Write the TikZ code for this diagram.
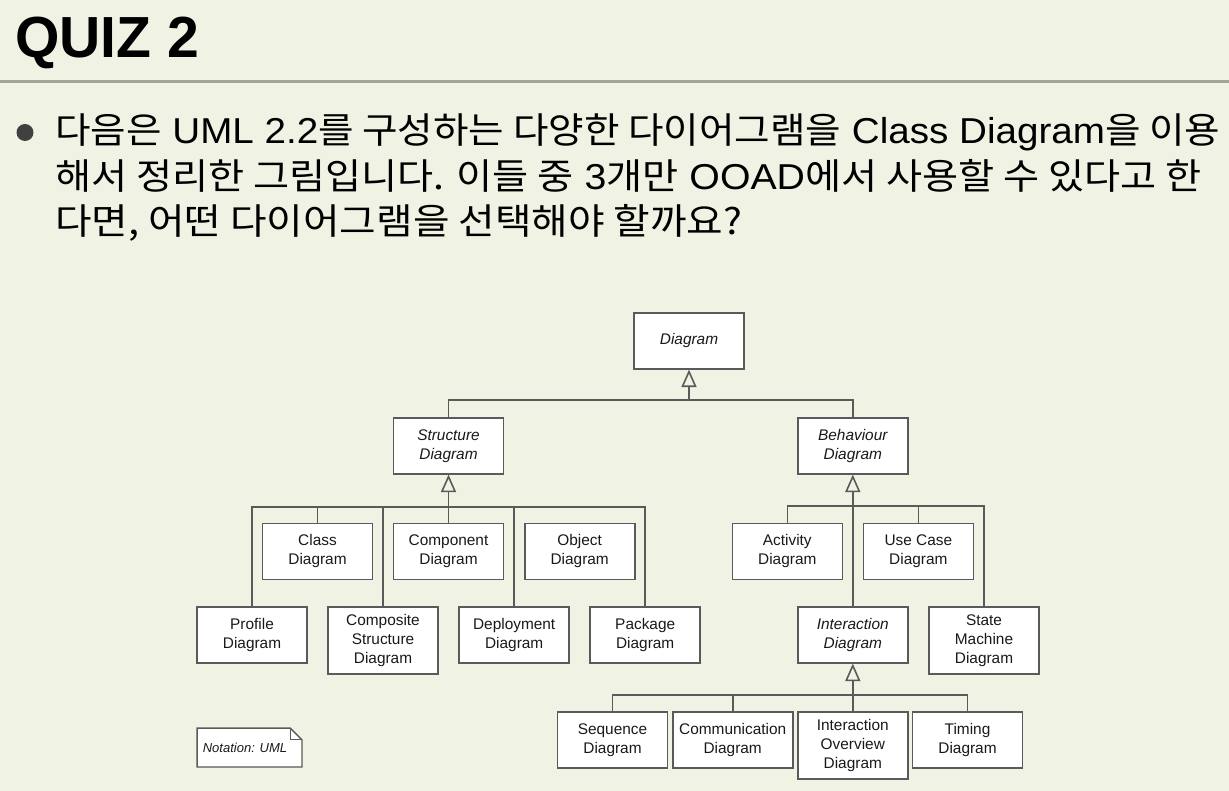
\documentclass[tikz,border=0pt]{standalone}
\usepackage{fontspec}
\setmainfont{Liberation Sans}
\newfontfamily\kr{Noto Sans CJK KR}
\usetikzlibrary{arrows.meta,calc}
\definecolor{bg}{RGB}{240,243,228}
\definecolor{linec}{RGB}{90,90,90}
\definecolor{sepc}{RGB}{160,165,150}
\definecolor{txt}{RGB}{25,25,25}
\definecolor{bulletc}{RGB}{64,64,64}
\begin{document}
\begin{tikzpicture}[x=1pt,y=-1pt,
 box/.style={draw=linec, line width=1.6pt, fill=white, minimum width=110pt, minimum height=56pt, inner sep=0pt, align=center, anchor=north, font=\fontsize{15.4}{19}\selectfont, text=txt},
 tall/.style={minimum height=67pt},
 ab/.style={font=\fontsize{15.4}{19}\selectfont\itshape},
 conn/.style={draw=linec, line width=1.6pt},
 gen/.style={conn, -{Triangle[open, length=17.5pt, width=15pt]}},
 qline/.style={anchor=base west, inner sep=0pt, font=\fontsize{36}{40}\selectfont, text=black}]
\fill[bg] (0,0) rectangle (1229,791);
\useasboundingbox (0,0) rectangle (1229,791);

% title and question
\node[anchor=base west, inner sep=0pt] (title) at (15,57.3) {\resizebox{184pt}{\height}{\fontsize{58}{60}\selectfont\bfseries QUIZ 2}};
\draw[sepc, line width=3pt] (0,81.5) -- (1229,81.5);
\fill[bulletc] (25,132.5) circle (8.5);
\node[qline] (q1) at (55,144) {\resizebox{1165pt}{\height}{{\kr 다음은} UML 2.2{\kr 를 구성하는 다양한 다이어그램을} Class Diagram{\kr 을 이용}}};
\node[qline] (q2) at (55,189.5) {\resizebox{1146pt}{\height}{{\kr 해서 정리한 그림입니다. 이들 중} 3{\kr 개만} OOAD{\kr 에서 사용할 수 있다고 한}}};
\node[qline] (q3) at (55,235) {\resizebox{687pt}{\height}{{\kr 다면, 어떤 다이어그램을 선택해야 할까요?}}};

% diagram nodes
\node[box,ab] (dia) at (689,312) {Diagram};
\node[box,ab] (str) at (448.5,417) {Structure\\Diagram};
\node[box,ab] (beh) at (852.8,417) {Behaviour\\Diagram};
\node[box] (cls) at (317.5,522.7) {Class\\Diagram};
\node[box] (cmp) at (448.5,522.7) {Component\\Diagram};
\node[box] (obj) at (579.7,522.7) {Object\\Diagram};
\node[box] (prof) at (252,606) {Profile\\Diagram};
\node[box,tall] (comp) at (383,606) {Composite\\Structure\\Diagram};
\node[box] (dep) at (514.2,606) {Deployment\\Diagram};
\node[box] (pkg) at (645.2,606) {Package\\Diagram};
\node[box] (act) at (787.3,522.7) {Activity\\Diagram};
\node[box] (uc) at (918.3,522.7) {Use Case\\Diagram};
\node[box,ab] (inter) at (852.8,606) {Interaction\\Diagram};
\node[box,tall] (sm) at (984,606) {State\\Machine\\Diagram};
\node[box] (seq) at (612.5,711) {Sequence\\Diagram};
\node[box,minimum width=120pt] (commu) at (732.7,711) {Communication\\Diagram};
\node[box,tall] (iov) at (852.8,711) {Interaction\\Overview\\Diagram};
\node[box] (tim) at (967.5,711) {Timing\\Diagram};

% junctions
\coordinate (j0) at (689,400);
\coordinate (j1) at (448.5,506.7);
\coordinate (j2) at (852.8,506);
\coordinate (j3) at (852.8,695);

\draw[conn] (str.north) |- (j0) -| (beh.north);
\draw[gen] (j0) -- (dia.south);

\draw[conn] (prof.north) |- (j1) -| (pkg.north);
\draw[conn] (cls.north) -- (cls.north |- j1);
\draw[conn] (comp.north) -- (comp.north |- j1);
\draw[conn] (cmp.north) -- (cmp.north |- j1);
\draw[conn] (dep.north) -- (dep.north |- j1);
\draw[gen] (j1) -- (str.south);

\draw[conn] (act.north) |- (j2) -| (sm.north);
\draw[conn] (uc.north) -- (uc.north |- j2);
\draw[conn] (inter.north) -- (j2);
\draw[gen] (j2) -- (beh.south);

\draw[conn] (seq.north) |- (j3) -| (tim.north);
\draw[conn] (commu.north) -- (commu.north |- j3);
\draw[conn] (iov.north) -- (j3);
\draw[gen] (j3) -- (inter.south);

% note
\node[fill=white, minimum width=104.4pt, minimum height=38.4pt, inner sep=0pt, font=\fontsize{13}{15}\selectfont\itshape, text=txt] (note) at (249.5,747.5) {\hspace*{-9pt}Notation: UML};
\fill[bg] (note.north east) -- ++(-11.7,0) -- ++(11.7,11.7) -- cycle;
\draw[linec, line width=1.3pt] (note.north west) -- ($(note.north east)+(-11.7,0)$) -- ($(note.north east)+(0,11.7)$) -- (note.south east) -- (note.south west) -- cycle;
\draw[linec, line width=1.3pt] ($(note.north east)+(-11.7,0)$) -- ++(0,11.7) -- ++(11.7,0);
\end{tikzpicture}
\end{document}
